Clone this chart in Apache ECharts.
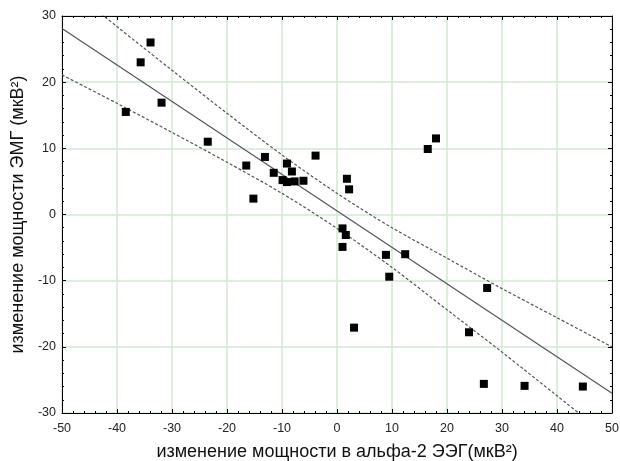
<!DOCTYPE html>
<html>
<head>
<meta charset="utf-8">
<script src="https://cdn.jsdelivr.net/npm/echarts@6/dist/echarts.min.js"></script>
<style>
  html, body { margin: 0; padding: 0; background: #fff; }
  #chart { width: 620px; height: 461px; }
</style>
</head>
<body>
<div id="chart"></div>
<script>
// scatter points (alpha-2 EEG change, EMG change)
const pointX = [-38.4, -35.7, -33.9, -31.9, -23.5, -16.5, -13.1, -15.2, -11.5, -9.1, -8.2, -9.9, -9.1, -7.7, -6.1, -3.9,
    1.8, 2.2, 16.5, 18.0, 1.0, 1.6, 1.0, 8.9, 12.4, 9.5, 27.3, 3.1, 24.0, 26.7, 34.1, 44.7];
const pointY = [15.5, 23.0, 26.0, 16.9, 11.0, 7.4, 8.7, 2.4, 6.3, 7.7, 6.5, 5.2, 4.9, 5.0, 5.1, 8.9,
    5.4, 3.8, 9.9, 11.5, -2.1, -3.1, -4.9, -6.1, -6.0, -9.4, -11.1, -17.1, -17.8, -25.6, -25.9, -26.0];

// fitted line, read at the plot edges
const fitX = [-50, 50];
const fitY = [28.1, -27.0];

// confidence bands
const bandX = [-50, -40, -30, -20, -10, 0, 10, 20, 30, 40, 50];
const upperY = [35.1, 28.4, 21.8, 15.3, 9.0, 3.2, -2.0, -6.6, -11.2, -15.6, -20.0];
const lowerY = [21.1, 16.8, 12.4, 7.9, 3.2, -2.1, -8.0, -14.4, -20.8, -27.4, -34.0];

const xTitle = 'изменение мощности в альфа-2 ЭЭГ(мкВ²)';
const yTitle = 'изменение мощности ЭМГ (мкВ²)';

const zip = (a, b) => a.map((v, i) => [v, b[i]]);

const chart = echarts.init(document.getElementById('chart'));

const frameAxis = {
    axisLine: { show: true, onZero: false, lineStyle: { color: '#000', width: 1 } },
    axisTick: { show: true, inside: true, length: 4, lineStyle: { color: '#000' } },
    minorTick: { show: true, splitNumber: 5, length: 2, lineStyle: { color: '#000' } }
};

const option = {
    animation: false,
    textStyle: { fontFamily: 'Liberation Sans, Arial, sans-serif' },
    grid: { left: 62, right: 8, top: 16, bottom: 48, containLabel: false, outerBoundsMode: 'none' },
    xAxis: [{
        type: 'value', min: -50, max: 50, interval: 10,
        position: 'bottom',
        ...frameAxis,
        axisLabel: { color: '#222', fontSize: 12.5, margin: 9 },
        splitLine: { show: true, lineStyle: { color: '#d3e8d3', width: 1.5 } },
        name: xTitle, nameLocation: 'middle', nameGap: 30,
        nameTextStyle: { color: '#111', fontSize: 18 }
    }, {
        type: 'value', min: -50, max: 50, interval: 10,
        position: 'top',
        ...frameAxis,
        axisLabel: { show: false },
        splitLine: { show: false }
    }],
    yAxis: [{
        type: 'value', min: -30, max: 30, interval: 10,
        position: 'left',
        ...frameAxis,
        axisLabel: { color: '#222', fontSize: 12.5, margin: 6 },
        splitLine: { show: true, lineStyle: { color: '#d3e8d3', width: 1.5 } },
        name: yTitle, nameLocation: 'middle', nameGap: 35, nameRotate: 90,
        nameTextStyle: { color: '#111', fontSize: 18 }
    }, {
        type: 'value', min: -30, max: 30, interval: 10,
        position: 'right',
        ...frameAxis,
        axisLabel: { show: false },
        splitLine: { show: false }
    }],
    series: [{
        type: 'line',
        data: zip(bandX, upperY),
        smooth: 0.3,
        symbol: 'none',
        clip: true,
        lineStyle: { color: '#555', width: 1.2, type: [3, 2] },
        z: 2
    }, {
        type: 'line',
        data: zip(bandX, lowerY),
        smooth: 0.3,
        symbol: 'none',
        clip: true,
        lineStyle: { color: '#555', width: 1.2, type: [3, 2] },
        z: 2
    }, {
        type: 'line',
        data: zip(fitX, fitY),
        symbol: 'none',
        lineStyle: { color: '#55535e', width: 1.2 },
        z: 3
    }, {
        type: 'scatter',
        data: zip(pointX, pointY),
        symbol: 'rect',
        symbolSize: 8,
        itemStyle: { color: '#000', opacity: 1 },
        z: 4
    }]
};

chart.setOption(option);
</script>
</body>
</html>
